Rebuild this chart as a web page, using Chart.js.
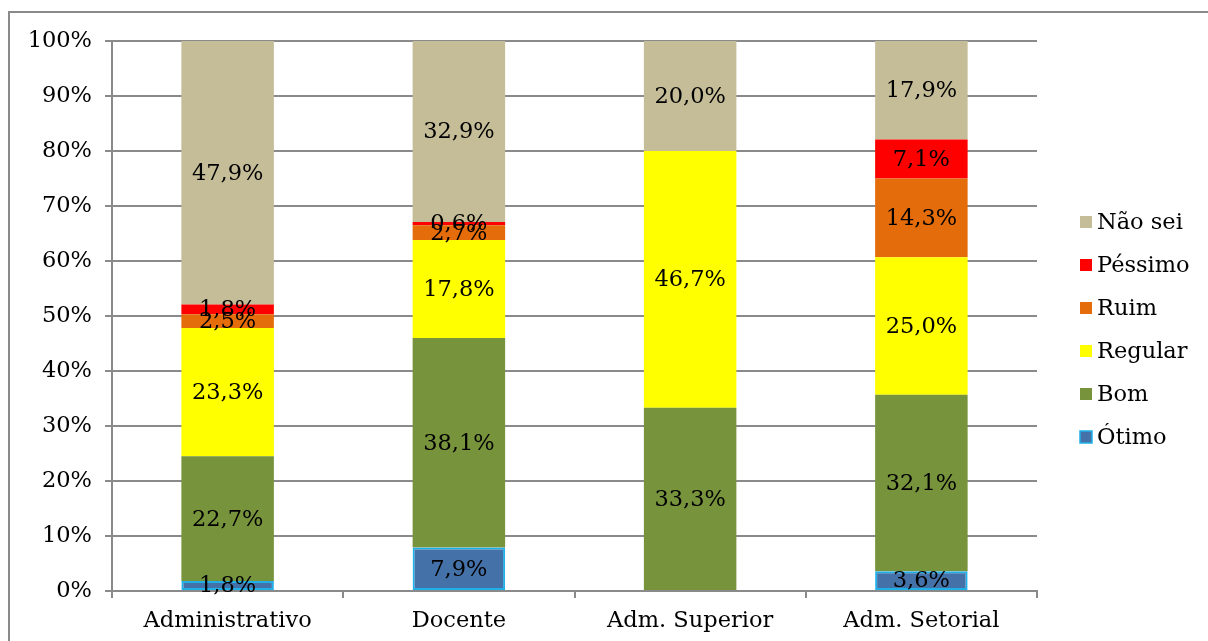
<!DOCTYPE html>
<html>
<head>
<meta charset="utf-8">
<script src="https://cdn.jsdelivr.net/npm/chart.js@4"></script>
<style>
  html, body { margin: 0; padding: 0; background: #fff; overflow: hidden; }
  #wrap { width: 1208px; height: 641px; position: relative; overflow: hidden; }
  #frame { position: absolute; left: 8px; top: 11px; width: 1300px; height: 700px;
           border-left: 2px solid #8a8a8a; border-top: 2px solid #8a8a8a; pointer-events: none; }
</style>
</head>
<body>
<div id="wrap"><canvas id="chart"></canvas><div id="frame"></div></div>
<script>
// categories and series (percent)
const categories = ['Administrativo', 'Docente', 'Adm. Superior', 'Adm. Setorial'];
const seriesNames = ['Ótimo', 'Bom', 'Regular', 'Ruim', 'Péssimo', 'Não sei'];
const otimo   = [1.8, 7.9, 0, 3.6];
const bom     = [22.7, 38.1, 33.3, 32.1];
const regular = [23.3, 17.8, 46.7, 25.0];
const ruim    = [2.5, 2.7, 0, 14.3];
const pessimo = [1.8, 0.6, 0, 7.1];
const naoSei  = [47.9, 32.9, 20.0, 17.9];
const yTicks  = [0, 10, 20, 30, 40, 50, 60, 70, 80, 90, 100];

const colors = ['#4472a8', '#77933c', '#ffff00', '#e46c0a', '#ff0000', '#c4bd97'];
const FONT = '"DejaVu Serif", serif';
const FSIZE = 22.5;
const GRID = '#8a8a8a';

Chart.defaults.font.family = FONT;
Chart.defaults.font.size = FSIZE;
Chart.defaults.color = '#000';

const values = [otimo, bom, regular, ruim, pessimo, naoSei];
const datasets = values.map((v, i) => ({
    label: seriesNames[i],
    data: v,
    backgroundColor: colors[i],
    borderColor: i === 0 ? '#1fb0ea' : colors[i],
    borderWidth: i === 0 ? 2 : 0,
    borderSkipped: false,
    categoryPercentage: 1.0,
    barPercentage: 0.40
}));

// labels in the middle of every segment
const segmentLabels = {
    id: 'segmentLabels',
    afterDatasetsDraw(chart) {
        const ctx = chart.ctx;
        ctx.save();
        ctx.font = FSIZE + 'px ' + FONT;
        ctx.fillStyle = '#000';
        ctx.textAlign = 'center';
        ctx.textBaseline = 'middle';
        chart.data.datasets.forEach((ds, di) => {
            chart.getDatasetMeta(di).data.forEach((bar, j) => {
                const v = ds.data[j];
                if (!v) return;
                const mid = (bar.y + bar.base) / 2;
                ctx.fillText(v.toFixed(1).replace('.', ',') + '%', bar.x, mid + 1);
            });
        });
        ctx.restore();
    }
};

// legend on the right, top item first
const sideLegend = {
    id: 'sideLegend',
    afterDraw(chart) {
        const ctx = chart.ctx;
        ctx.save();
        ctx.font = FSIZE + 'px ' + FONT;
        ctx.textBaseline = 'middle';
        ctx.textAlign = 'left';
        const order = [5, 4, 3, 2, 1, 0];
        order.forEach((di, k) => {
            const ds = chart.data.datasets[di];
            const y = 222 + k * 43;
            ctx.fillStyle = ds.backgroundColor;
            ctx.fillRect(1080, y - 6, 12, 12);
            if (ds.borderWidth) {
                ctx.strokeStyle = ds.borderColor;
                ctx.lineWidth = 1.5;
                ctx.strokeRect(1080, y - 6, 12, 12);
            }
            ctx.fillStyle = '#000';
            ctx.fillText(ds.label, 1097, y + 1);
        });
        ctx.restore();
    }
};

new Chart(document.getElementById('chart'), {
    type: 'bar',
    data: { labels: categories, datasets: datasets },
    options: {
        responsive: true,
        maintainAspectRatio: false,
        animation: false,
        layout: { padding: { left: 0, top: 41, right: 171, bottom: 0 } },
        plugins: {
            legend: { display: false },
            tooltip: { enabled: false }
        },
        scales: {
            x: {
                stacked: true,
                offset: true,
                grid: { drawOnChartArea: false, drawTicks: true, tickLength: 7, color: GRID, lineWidth: 2, offset: true },
                border: { color: GRID, width: 2 },
                ticks: { padding: 10, font: { size: FSIZE } },
                afterFit(s) { s.height = 50; }
            },
            y: {
                stacked: true,
                min: 0,
                max: 100,
                afterBuildTicks(s) { s.ticks = yTicks.map(v => ({ value: v })); },
                grid: { color: GRID, lineWidth: 2, tickLength: 7 },
                border: { color: GRID, width: 2 },
                ticks: { padding: 13, font: { size: FSIZE }, callback: v => v + '%' },
                afterFit(s) { s.width = 112; }
            }
        }
    },
    plugins: [segmentLabels, sideLegend]
});
</script>
</body>
</html>
